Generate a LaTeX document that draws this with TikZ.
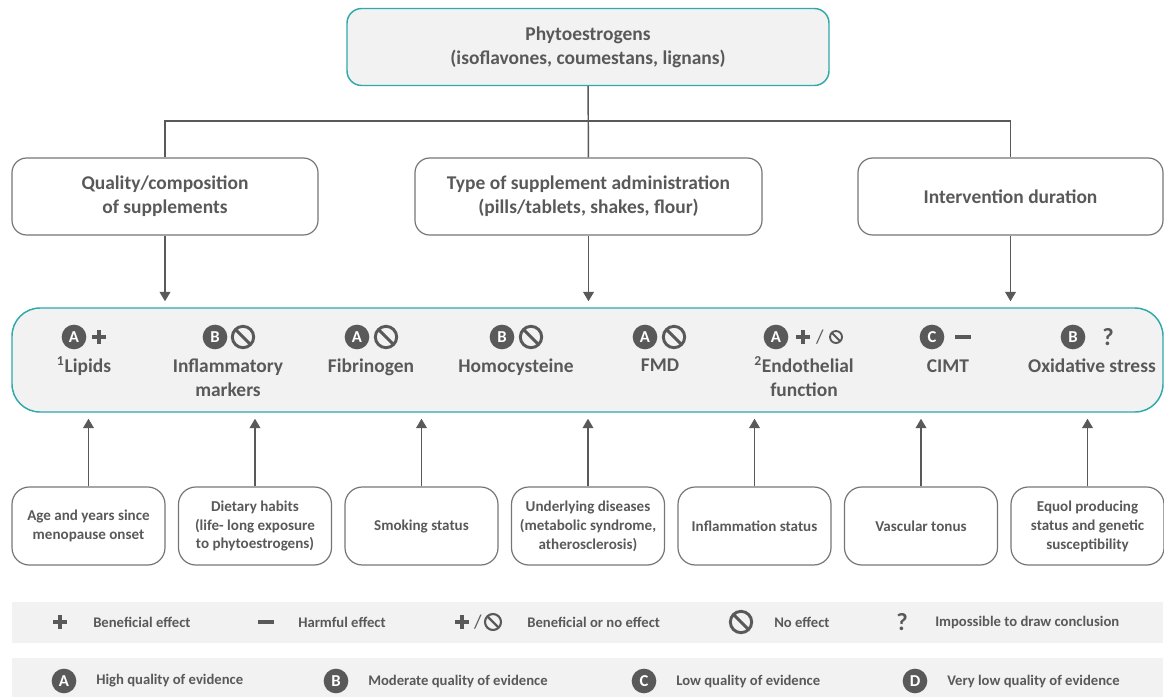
\documentclass[tikz,border=0pt]{standalone}
\usepackage{fontspec}
\setmainfont{Carlito}
\usetikzlibrary{positioning, arrows.meta}
\definecolor{txtc}{HTML}{595959}
\definecolor{tealc}{HTML}{2FA9AA}
\definecolor{bandc}{HTML}{F2F2F2}
\definecolor{boxc}{HTML}{767676}
\tikzset{
mainbox/.style={draw=tealc, line width=1.1pt, fill=bandc, rounded corners=11pt, align=center, text=txtc, font=\bfseries\fontsize{14.6}{18}\selectfont},
midbox/.style={draw=boxc, line width=0.9pt, fill=white, rounded corners=11pt, minimum height=57.75pt, align=center, text=txtc, font=\bfseries\fontsize{14.6}{18}\selectfont},
factor/.style={draw=boxc, line width=0.9pt, rounded corners=13pt, minimum width=114.75pt, minimum height=58.5pt, align=center, text=txtc, font=\bfseries\fontsize{11.3}{14.2}\selectfont},
itemlabel/.style={inner sep=0, align=center, text=txtc, font=\bfseries\fontsize{14.6}{17.4}\selectfont},
legtext/.style={anchor=west, inner sep=0, text=txtc, font=\bfseries\fontsize{11}{12}\selectfont},
grade/.style={circle, fill=txtc, text=white, minimum size=18.5pt, inner sep=0, font=\bfseries\fontsize{12.5}{12.5}\selectfont},
nosym/.style={circle, draw=txtc, line width=2.2pt, minimum size=16pt, inner sep=0, path picture={\draw[txtc, line width=2.2pt] (path picture bounding box.north west) -- (path picture bounding box.south east);}},
smallno/.style={nosym, line width=1.4pt, minimum size=9pt, path picture={\draw[txtc, line width=1.4pt] (path picture bounding box.north west) -- (path picture bounding box.south east);}},
plussym/.style={minimum size=10.5pt, inner sep=0, path picture={\fill[txtc] (path picture bounding box.center) ++(-7,-2) rectangle ++(14,4); \fill[txtc] (path picture bounding box.center) ++(-2,-7) rectangle ++(4,14);}},
minsym/.style={minimum width=12pt, minimum height=3pt, inner sep=0, fill=txtc},
slash/.style={inner sep=0, text=txtc, font=\fontsize{14.6}{17}\selectfont},
qsym/.style={inner sep=0, text=txtc, font=\bfseries\fontsize{18.5}{19}\selectfont},
conn/.style={draw=txtc, line width=1.1pt},
arr/.style={conn, -{Triangle[width=8pt, length=7pt]}, shorten >=4.5pt}
}
\begin{document}
\begin{tikzpicture}[x=0.75pt, y=-0.75pt]
\useasboundingbox (0,0) rectangle (1164,697);
\node[mainbox, minimum width=361.5pt, minimum height=57.75pt] at (588,47) (phyto) {Phytoestrogens\\(isoflavones, coumestans, lignans)};
\node[midbox, minimum width=229.5pt] at (165,196.5) (qual) {Quality/composition\\of supplements};
\node[midbox, minimum width=260.25pt] at (588.5,196.5) (adm) {Type of supplement administration\\(pills/tablets, shakes, flour)};
\node[midbox, minimum width=228.75pt] at (1010.5,196.5) (dur) {Intervention duration};
\coordinate (bus) at (588,121);
\draw[conn] (phyto) -- (adm);
\draw[conn] (qual.north) |- (bus) -| (dur.north);
\node[mainbox, rounded corners=21pt, minimum width=863.25pt, minimum height=78pt] at (587.5,360) (eff) {};
\foreach \b in {qual, adm, dur}
  \draw[arr] (\b.south) -- (\b.south |- eff.north);
\foreach \gx/\gl/\cx/\lab [count=\k] in {74/A/84/{\smash{\textsuperscript{1}}Lipids}, 215/B/228/{Inflammatory\\markers}, 357/A/371/Fibrinogen, 502/B/516/Homocysteine, 645/A/660/FMD, 776/A/804/{\smash{\textsuperscript{2}}Endothelial\\function}, 932/C/948/CIMT, 1073/B/1092/Oxidative stress}{
  \node[grade] at (\gx,337) (g-\k) {\gl};
  \node[itemlabel, anchor=north] at (\cx,359) (l-\k) {\lab};
}
\node[plussym] at (99,337) (e-1) {};
\node[nosym] at (243,337) (e-2) {};
\node[nosym] at (386,337) (e-3) {};
\node[nosym] at (531,337) (e-4) {};
\node[nosym] at (674,337) (e-5) {};
\node[plussym] at (803,337) (e-6) {};
\node[slash] at (820,337) (e-6s) {/};
\node[smallno] at (836,337) (e-6n) {};
\node[minsym] at (963,337) (e-7) {};
\node[qsym] at (1108,337) (e-8) {?};
\foreach \ftext [count=\i] in {{Age and years since\\menopause onset}, {Dietary habits\\(life- long exposure\\to phytoestrogens)}, {Smoking status}, {Underlying diseases\\(metabolic syndrome,\\atherosclerosis)}, {Inflammation status}, {Vascular tonus}, {Equol producing\\status and genetic\\susceptibility}}{
  \node[factor] at ({88.5+166.5*(\i-1)},526) (f-\i) {\ftext};
  \draw[arr] (f-\i.north) -- (f-\i.north |- eff.south);
}
\fill[bandc] (12,602) rectangle (1163,643);
\fill[bandc] (12,658) rectangle (1163,697);
\node[plussym] at (60,622) (ls-1) {};
\node[minsym] at (266,622) (ls-2) {};
\node[plussym] at (462,622) (ls-3) {};
\node[slash] at (478,622) (ls-3s) {/};
\node[nosym, line width=1.6pt, minimum size=12pt, path picture={\draw[txtc, line width=1.6pt] (path picture bounding box.north west) -- (path picture bounding box.south east);}] at (493,622) (ls-3n) {};
\node[nosym] at (741,622) (ls-4) {};
\node[qsym] at (902,622) (ls-5) {?};
\foreach \lx/\ltext [count=\n] in {93/Beneficial effect, 298/Harmful effect, 527/Beneficial or no effect, 774/No effect, 935/Impossible to draw conclusion}
  \node[legtext] at (\lx,622) (lt-\n) {\ltext};
\foreach \gx/\gl/\gtext [count=\n] in {64/A/High quality of evidence, 336/B/Moderate quality of evidence, 644/C/Low quality of evidence, 915/D/Very low quality of evidence}{
  \node[grade] at (\gx,681) (lg-\n) {\gl};
  \node[legtext] at (\gx+32,681) (lq-\n) {\gtext};
}
\end{tikzpicture}
\end{document}
